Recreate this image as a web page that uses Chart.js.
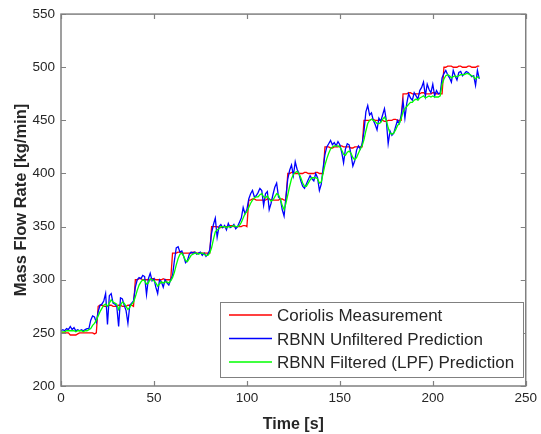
<!DOCTYPE html>
<html>
<head>
<meta charset="utf-8">
<script src="https://cdn.jsdelivr.net/npm/chart.js@4.4.1/dist/chart.umd.min.js"></script>
<style>
  html, body { margin: 0; padding: 0; background: #fff; }
  canvas { display: block; }
</style>
</head>
<body>
<canvas id="flowChart" width="541" height="434"></canvas>
<script>
// sampled once per second, t = 0 .. 225 s
const sampleStep = 1;

const coriolis = [
  250,250,250,250,250,248,248,248,248,249,250,250,250,250,250,250,250,250,249,250,
  275,276,276,275,275,275,276,276,275,275,275,276,276,275,275,275,276,276,276,275,
  300,300,301,301,300,300,300,300,300,301,301,300,300,300,300,301,300,300,300,300,
  325,325,325,326,326,325,325,325,325,325,325,326,326,325,325,325,325,325,325,325,325,
  350,350,350,350,349,349,350,350,350,350,351,351,350,350,350,350,350,351,351,350,
  375,375,376,376,375,375,375,375,375,375,376,376,375,375,375,375,375,376,376,375,375,
  400,400,401,401,400,400,400,400,400,401,401,400,400,400,400,401,401,400,400,400,
  425,425,425,424,424,425,425,425,426,426,425,425,425,425,424,424,425,425,425,425,425,
  450,450,450,450,451,451,450,450,450,450,450,449,449,450,450,450,451,451,450,450,450,
  475,475,475,476,476,475,475,475,475,475,476,476,475,475,475,475,476,476,475,475,475,475,
  500,500,501,501,501,500,500,500,501,501,500,500,500,501,501,500,500,500,501,501
];

const unfiltered = [
  252,253,252,254,253,256,253,255,252,253,252,253,252,253,254,254,262,266,265,260,
  270,276,277,280,287,258,285,287,278,277,275,256,283,282,276,271,259,276,278,280,
  293,300,302,301,304,303,286,301,306,299,301,293,287,300,298,293,300,297,295,300,
  304,318,330,331,326,327,322,316,318,324,326,325,326,324,325,326,323,325,322,324,328,
  344,352,358,340,350,352,349,351,347,353,349,350,352,348,350,354,358,368,362,366,
  376,381,384,378,379,382,386,384,370,381,383,366,372,380,387,391,378,376,366,360,378,
  395,403,408,398,411,404,400,393,388,386,390,394,398,395,393,400,396,384,390,405,
  418,425,428,431,427,429,426,430,427,420,410,423,428,427,418,407,412,422,426,423,428,
  440,458,464,455,457,450,446,441,452,449,455,461,450,428,440,436,438,444,450,447,455,
  468,452,466,475,471,469,476,473,470,478,481,486,473,484,479,476,484,473,478,475,476,490,
  494,497,493,490,486,497,492,488,495,496,492,494,496,495,493,491,492,483,497,489
];

const filtered = [
  251,251,251,252,252,252,252,252,251,252,252,252,251,252,252,253,254,257,259,262,
  266,270,273,276,277,275,278,281,279,278,277,272,276,279,278,275,272,274,277,279,
  284,290,295,298,300,299,296,297,301,300,299,297,294,296,298,297,298,298,297,299,
  302,307,314,320,324,325,322,318,317,320,323,324,325,325,324,325,325,324,323,323,325,
  330,338,345,347,348,350,350,350,349,350,350,350,351,350,350,351,354,358,362,364,
  368,372,375,377,378,378,380,381,378,377,379,376,374,375,378,381,380,376,370,366,372,
  380,388,395,399,401,402,400,396,391,388,388,391,394,396,396,396,395,391,392,400,
  408,414,419,423,425,426,426,426,425,422,418,417,420,421,419,415,413,415,419,423,426,
  432,440,447,450,451,450,449,447,447,448,451,453,450,443,438,437,438,441,445,447,452,
  458,461,463,465,467,467,469,470,469,471,472,473,471,472,473,472,473,472,472,472,473,484,
  489,492,493,492,490,491,492,491,492,493,493,493,494,494,493,492,491,489,491,490
];

const seriesNames = ["Coriolis Measurement", "RBNN Unfiltered Prediction", "RBNN Filtered (LPF) Prediction"];
const seriesColors = ["#ff0000", "#0000ff", "#00ff00"];
const xTicks = [0, 50, 100, 150, 200, 250];
const yTicks = [200, 250, 300, 350, 400, 450, 500, 550];

const textColor = "#262626";
const axisColor = "#808080";

function toPoints(values){
  return values.map((v, i) => ({ x: i * sampleStep, y: v }));
}

function series(label, values, color, order){
  return {
    label,
    data: toPoints(values),
    borderColor: color,
    backgroundColor: color,
    borderWidth: 1.3,
    pointRadius: 0,
    tension: 0,
    fill: false,
    order
  };
}

// matlab style box with ticks pointing inwards
const axesBox = {
  id: "axesBox",
  afterDatasetsDraw(chart){
    const {ctx, chartArea: a, scales} = chart;
    ctx.save();
    ctx.strokeStyle = axisColor;
    ctx.lineWidth = 1.2;
    ctx.beginPath();
    for(const v of xTicks){
      const px = Math.round(scales.x.getPixelForValue(v)) + 0.5;
      ctx.moveTo(px, a.bottom); ctx.lineTo(px, a.bottom - 5);
      ctx.moveTo(px, a.top); ctx.lineTo(px, a.top + 5);
    }
    for(const v of yTicks){
      const py = Math.round(scales.y.getPixelForValue(v)) + 0.5;
      ctx.moveTo(a.left, py); ctx.lineTo(a.left + 5, py);
      ctx.moveTo(a.right, py); ctx.lineTo(a.right - 5, py);
    }
    ctx.stroke();
    ctx.lineWidth = 1.5;
    ctx.strokeRect(a.left, a.top, a.right - a.left, a.bottom - a.top);
    ctx.restore();
  }
};

const insideLegend = {
  id: "insideLegend",
  afterDraw(chart){
    const ctx = chart.ctx;
    const box = { x: 220.5, y: 302.5, w: 303, h: 75 };
    ctx.save();
    ctx.fillStyle = "#fff";
    ctx.fillRect(box.x, box.y, box.w, box.h);
    ctx.strokeStyle = axisColor;
    ctx.lineWidth = 1;
    ctx.strokeRect(box.x, box.y, box.w, box.h);
    ctx.font = "17px 'Liberation Sans', Arial, sans-serif";
    ctx.textBaseline = "middle";
    seriesNames.forEach((name, i) => {
      const y = 315 + i * 23.5;
      ctx.beginPath();
      ctx.strokeStyle = seriesColors[i];
      ctx.lineWidth = 1.6;
      ctx.moveTo(229, y);
      ctx.lineTo(272, y);
      ctx.stroke();
      ctx.fillStyle = textColor;
      ctx.fillText(name, 277, y + 1.5);
    });
    ctx.restore();
  }
};

Chart.defaults.font.family = "'Liberation Sans', Arial, sans-serif";
Chart.defaults.color = textColor;

new Chart(document.getElementById("flowChart"), {
  type: "line",
  data: {
    datasets: [
      series(seriesNames[0], coriolis, seriesColors[0], 2),
      series(seriesNames[1], unfiltered, seriesColors[1], 1),
      series(seriesNames[2], filtered, seriesColors[2], 0)
    ]
  },
  options: {
    responsive: false,
    animation: false,
    events: [],
    layout: { padding: { top: 14, right: 11, left: 0, bottom: 0 } },
    plugins: { legend: { display: false }, tooltip: { enabled: false } },
    scales: {
      x: {
        type: "linear",
        min: 0,
        max: 250,
        afterBuildTicks: s => { s.ticks = xTicks.map(v => ({ value: v })); },
        afterFit: s => { s.height = 48; },
        grid: { display: false, drawTicks: false },
        border: { display: false },
        ticks: { color: textColor, font: { size: 13.5 }, padding: 4, maxRotation: 0 },
        title: {
          display: true,
          text: "Time [s]",
          color: textColor,
          font: { size: 16, weight: "bold" },
          padding: { top: 0, bottom: 0 }
        }
      },
      y: {
        type: "linear",
        min: 200,
        max: 550,
        afterBuildTicks: s => { s.ticks = yTicks.map(v => ({ value: v })); },
        afterFit: s => { s.width = 61; },
        grid: { display: false, drawTicks: false },
        border: { display: false },
        ticks: { color: textColor, font: { size: 13.5 }, padding: 6 },
        title: {
          display: true,
          text: "Mass Flow Rate [kg/min]",
          color: textColor,
          font: { size: 16.5, weight: "bold" },
          padding: { top: 12, bottom: 0 }
        }
      }
    }
  },
  plugins: [axesBox, insideLegend]
});
</script>
</body>
</html>
